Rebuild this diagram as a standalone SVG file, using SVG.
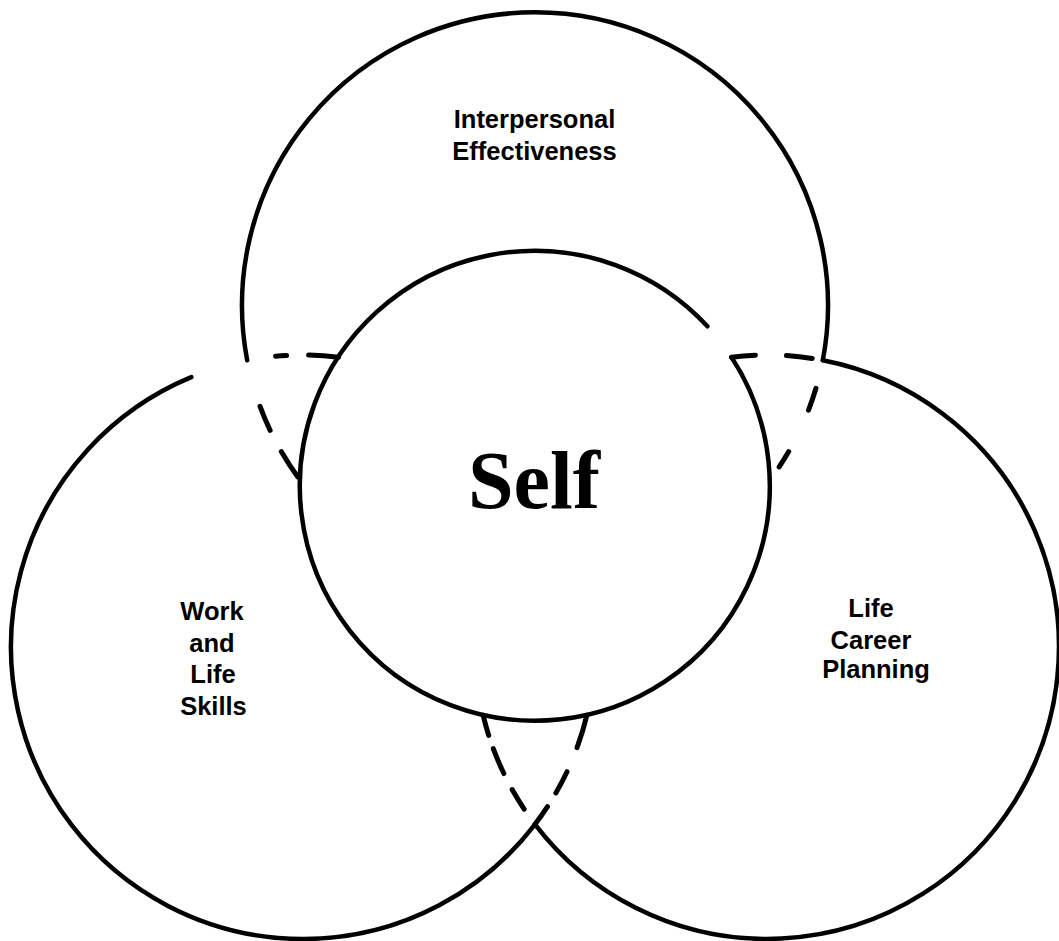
<svg xmlns="http://www.w3.org/2000/svg" width="1059" height="941" viewBox="0 0 1059 941">
<style>
.ring{fill:none;stroke:#000;stroke-width:4.5;stroke-linecap:round}
.dash{fill:none;stroke:#000;stroke-width:5;stroke-linecap:round}
.lbl{font-family:"Liberation Sans",Arial,Helvetica,sans-serif;font-weight:bold;font-size:25.5px;text-anchor:middle;fill:#000}
.self{font-family:"Liberation Serif","DejaVu Serif",serif;font-weight:bold;font-size:82px;text-anchor:middle;fill:#000}
</style>
<rect width="1059" height="941" fill="#fff"/>

<g id="interpersonal">
  <path class="ring" d="M247.2,360.3 A293,293 0 1,1 822.8,360.3"/>
  <text class="lbl" x="534.5" y="128">Interpersonal</text>
  <text class="lbl" x="534.5" y="160">Effectiveness</text>
</g>

<g id="work-life-skills">
  <path class="ring" d="M191.3,377.2 A292,292 0 1,0 535,824.3"/>
  <text class="lbl" x="212" y="620">Work</text>
  <text class="lbl" x="212" y="652">and</text>
  <text class="lbl" x="213" y="683">Life</text>
  <text class="lbl" x="213.5" y="715">Skills</text>
</g>

<g id="life-career-planning">
  <path class="ring" d="M822.8,360.3 A292,292 0 1,1 535,824.3"/>
  <text class="lbl" x="871" y="617">Life</text>
  <text class="lbl" x="871" y="649">Career</text>
  <text class="lbl" x="876" y="678">Planning</text>
</g>

<g id="self">
  <path class="ring" d="M731.5,357.2 A235,235 0 1,1 707.4,326.3"/>
  <text class="self" x="534" y="508">Self</text>
</g>

<g id="overlap-edges">
  <path class="dash" d="M300,480 A293,293 0 0,1 247.2,360.3" stroke-dasharray="30 24 26 200" stroke-dashoffset="-4"/>
  <path class="dash" d="M770,480 A293,293 0 0,0 822.8,360.3" stroke-dasharray="18 46 23 200" stroke-dashoffset="-16"/>
  <path class="dash" d="M338.5,357.2 A292,292 0 0,0 191.3,377.2" stroke-dasharray="30 22 11 200"/>
  <path class="dash" d="M586.9,715.2 A292,292 0 0,1 535,824.3" stroke-dasharray="34 26 24 16 200"/>
  <path class="dash" d="M731.5,357.2 A292,292 0 0,1 822.8,360.3" stroke-dasharray="24 31 26 200"/>
  <path class="dash" d="M483.1,715.2 A292,292 0 0,0 535,824.3" stroke-dasharray="21 14 27 18 23 200"/>
</g>
</svg>
